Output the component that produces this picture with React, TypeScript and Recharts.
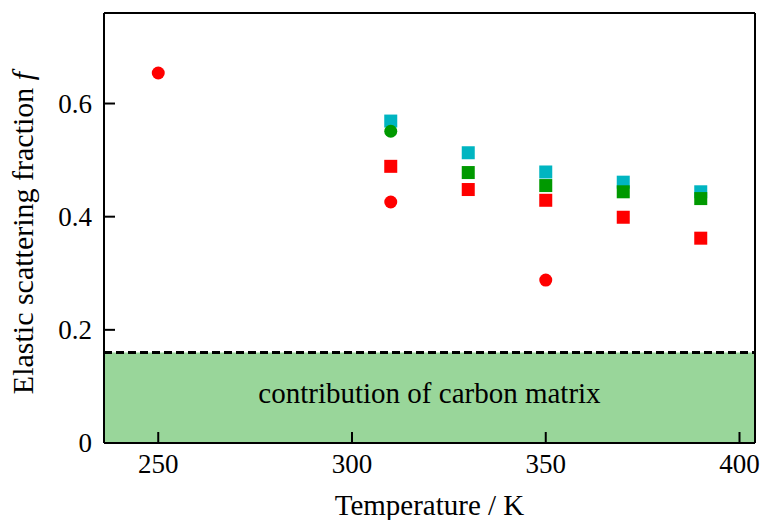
import { ScatterChart, Scatter, XAxis, YAxis, ReferenceArea, ReferenceLine } from "recharts";

const FONT = '"Liberation Serif", "DejaVu Serif", serif';

const xTicks = [250, 300, 350, 400];
const yTicks = [0, 0.2, 0.4, 0.6];

// elastic scattering fraction per sample set, by temperature (K)
const tempsFull = [310, 330, 350, 370, 390];
const cyanSquares = [0.569, 0.513, 0.479, 0.461, 0.444];
const greenTemps = [330, 350, 370, 390];
const greenSquares = [0.478, 0.455, 0.444, 0.432];
const greenCircleTemps = [310];
const greenCircles = [0.551];
const redSquares = [0.489, 0.448, 0.429, 0.399, 0.362];
const redCircleTemps = [250, 310, 350];
const redCircles = [0.654, 0.426, 0.288];

const carbonLevel = 0.16;

const toPoints = (xs: number[], ys: number[]) => xs.map((x, i) => ({ x, y: ys[i] }));

const square = (color: string) => (p: any) =>
  <rect x={p.cx - 6.5} y={p.cy - 6.5} width={13} height={13} fill={color} />;
const dot = (color: string) => (p: any) =>
  <circle cx={p.cx} cy={p.cy} r={6.5} fill={color} />;

const RED = "#ff0000";
const GREEN = "#009900";
const CYAN = "#00b5c1";

const axisLine = { stroke: "#000", strokeWidth: 2 };
const serif = { fontFamily: FONT };

const XTick = (p: any) => (
  <text x={p.x} y={p.y} dy={19} textAnchor="middle" fontSize={27} style={serif} fill="#000">
    {p.payload.value}
  </text>
);

const YTick = (p: any) => {
  const v = p.payload.value as number;
  return (
    <text x={p.x} y={p.y} dy={9} textAnchor="end" fontSize={27} style={serif} fill="#000">
      {v === 0 ? "0" : v.toFixed(1)}
    </text>
  );
};

export default function App() {
  return (
    <div style={{ position: "absolute", left: 0, top: 0, background: "#fff", fontFamily: FONT }}>
      <ScatterChart width={761} height={520} margin={{ top: 12, right: 5, left: 0, bottom: 0 }}>
        <ReferenceArea
          y1={0}
          y2={carbonLevel}
          fill="#99d69a"
          fillOpacity={1}
          stroke="none"
          label={(props: any) => {
            const vb = props.viewBox;
            return (
              <text x={vb.x + vb.width / 2} y={403} textAnchor="middle" fontSize={29} style={serif} fill="#000">
                contribution of carbon matrix
              </text>
            );
          }}
        />
        <ReferenceLine y={carbonLevel} stroke="#000" strokeWidth={3} strokeDasharray="8 4" />
        <XAxis
          dataKey="x"
          type="number"
          domain={[236, 404]}
          ticks={xTicks}
          height={77}
          tickSize={-11}
          tickMargin={22}
          tick={XTick}
          tickLine={axisLine}
          axisLine={axisLine}
          allowDataOverflow
          label={(props: any) => {
            const vb = props.viewBox;
            return (
              <text x={vb.x + vb.width / 2} y={515} textAnchor="middle" fontSize={29} style={serif} fill="#000">
                Temperature / K
              </text>
            );
          }}
        />
        <XAxis
          xAxisId="top"
          orientation="top"
          type="number"
          domain={[236, 404]}
          ticks={xTicks}
          height={1}
          tickSize={-11}
          tick={false}
          tickLine={axisLine}
          axisLine={axisLine}
          allowDataOverflow
        />
        <YAxis
          dataKey="y"
          type="number"
          domain={[0, 0.76]}
          ticks={yTicks}
          width={104}
          tickSize={-11}
          tickMargin={23}
          tick={YTick}
          tickLine={axisLine}
          axisLine={axisLine}
          allowDataOverflow
          label={() => (
            <text
              x={33}
              y={233}
              transform="rotate(-90, 33, 233)"
              textAnchor="middle"
              fontSize={30}
              style={serif}
              fill="#000"
            >
              Elastic scattering fraction <tspan fontStyle="italic">f</tspan>
            </text>
          )}
        />
        <YAxis
          yAxisId="right"
          orientation="right"
          type="number"
          domain={[0, 0.76]}
          ticks={yTicks}
          width={1}
          tickSize={-11}
          tick={false}
          tickLine={axisLine}
          axisLine={axisLine}
          allowDataOverflow
        />
        <Scatter data={toPoints(tempsFull, cyanSquares)} shape={square(CYAN)} isAnimationActive={false} />
        <Scatter data={toPoints(greenTemps, greenSquares)} shape={square(GREEN)} isAnimationActive={false} />
        <Scatter data={toPoints(greenCircleTemps, greenCircles)} shape={dot(GREEN)} isAnimationActive={false} />
        <Scatter data={toPoints(tempsFull, redSquares)} shape={square(RED)} isAnimationActive={false} />
        <Scatter data={toPoints(redCircleTemps, redCircles)} shape={dot(RED)} isAnimationActive={false} />
      </ScatterChart>
    </div>
  );
}
